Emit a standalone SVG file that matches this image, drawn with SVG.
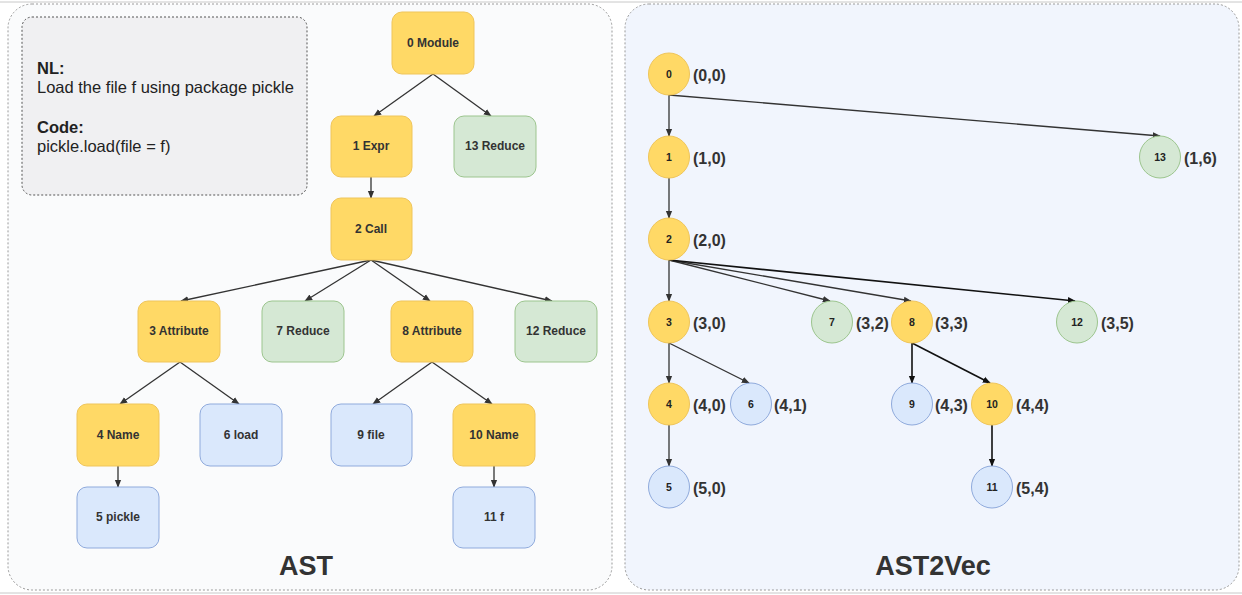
<svg xmlns="http://www.w3.org/2000/svg" width="1242" height="595" viewBox="0 0 1242 595">
<defs>
<style>
.panel{stroke:#9a9a9a;stroke-width:1;stroke-dasharray:2 2}
.y{fill:#FFD966;stroke:#EFC55A;stroke-width:1}
.g{fill:#D5E8D4;stroke:#9CC58E;stroke-width:1}
.b{fill:#DAE8FC;stroke:#8FAADC;stroke-width:1}
.nt{font-family:"Liberation Sans",Arial,sans-serif;font-size:12px;font-weight:bold;fill:#333;text-anchor:middle;dominant-baseline:central}
.ct{font-family:"Liberation Sans",Arial,sans-serif;font-size:10.5px;font-weight:bold;fill:#222;text-anchor:middle;dominant-baseline:central}
.lb{font-family:"Liberation Sans",Arial,sans-serif;font-size:16px;font-weight:bold;fill:#333;dominant-baseline:central}
.title{font-family:"Liberation Sans",Arial,sans-serif;font-size:27px;font-weight:bold;fill:#333;text-anchor:middle}
.e{stroke:#333;stroke-width:1.3;fill:none;marker-end:url(#ah)}
.ed{stroke:#111;stroke-width:1.6;fill:none;marker-end:url(#ahd)}
.desc{font-family:"Liberation Sans",Arial,sans-serif;font-size:16.5px;fill:#222}
</style>
<marker id="ah" viewBox="0 0 10 10" refX="9" refY="5" markerWidth="8" markerHeight="8" markerUnits="userSpaceOnUse" orient="auto">
<path d="M0,1 L10,5 L0,9 Z" fill="#333"/>
</marker>
<marker id="ahd" viewBox="0 0 10 10" refX="9" refY="5" markerWidth="8" markerHeight="8" markerUnits="userSpaceOnUse" orient="auto">
<path d="M0,1 L10,5 L0,9 Z" fill="#111"/>
</marker>
</defs>
<rect width="1242" height="595" fill="#ffffff"/>
<line x1="0" y1="2" x2="1242" y2="2" stroke="#c8c8c8" stroke-width="1"/>
<line x1="0" y1="593" x2="1242" y2="593" stroke="#c8c8c8" stroke-width="1"/>

<g id="panel-ast">
<rect class="panel" x="8" y="4" width="604" height="586" rx="24" fill="#FAFBFC"/>
<text class="title" x="306" y="575">AST</text>
</g>
<g id="panel-ast2vec">
<rect class="panel" x="625" y="4" width="614" height="586" rx="24" fill="#F1F5FD"/>
<text class="title" x="933" y="575">AST2Vec</text>
</g>

<g id="desc">
<rect x="22" y="17" width="285" height="178" rx="10" fill="#F0F0F2" stroke="#555" stroke-width="1" stroke-dasharray="2 2"/>
<text class="desc" x="37" y="74" font-weight="bold">NL:</text>
<text class="desc" x="37" y="93">Load the file f using package pickle</text>
<text class="desc" x="37" y="133" font-weight="bold">Code:</text>
<text class="desc" x="37" y="152">pickle.load(file = f)</text>
</g>

<g id="connectors-ast">
<line class="e" x1="433" y1="74" x2="374" y2="116"/>
<line class="e" x1="433" y1="74" x2="491" y2="116"/>
<line class="e" x1="371" y1="177" x2="371" y2="198"/>
<line class="e" x1="371" y1="260" x2="181" y2="301"/>
<line class="e" x1="371" y1="260" x2="305" y2="301"/>
<line class="e" x1="371" y1="260" x2="430" y2="301"/>
<line class="e" x1="371" y1="260" x2="552" y2="301"/>
<line class="e" x1="180" y1="362" x2="120" y2="404"/>
<line class="e" x1="180" y1="362" x2="239" y2="404"/>
<line class="e" x1="432" y1="362" x2="373" y2="404"/>
<line class="e" x1="432" y1="362" x2="492" y2="404"/>
<line class="e" x1="118" y1="466" x2="118" y2="487"/>
<line class="e" x1="494" y1="466" x2="494" y2="487"/>
</g>

<g id="ast-0"><rect class="y" x="392" y="12" width="82" height="62" rx="10"/><text class="nt" x="433" y="43">0 Module</text></g>
<g id="ast-1"><rect class="y" x="331" y="116" width="81" height="61" rx="10"/><text class="nt" x="371" y="146">1 Expr</text></g>
<g id="ast-13"><rect class="g" x="454" y="116" width="82" height="61" rx="10"/><text class="nt" x="495" y="146">13 Reduce</text></g>
<g id="ast-2"><rect class="y" x="331" y="198" width="81" height="62" rx="10"/><text class="nt" x="371" y="229">2 Call</text></g>
<g id="ast-3"><rect class="y" x="138" y="301" width="82" height="61" rx="10"/><text class="nt" x="179" y="331">3 Attribute</text></g>
<g id="ast-7"><rect class="g" x="262" y="301" width="82" height="61" rx="10"/><text class="nt" x="303" y="331">7 Reduce</text></g>
<g id="ast-8"><rect class="y" x="391" y="301" width="82" height="61" rx="10"/><text class="nt" x="432" y="331">8 Attribute</text></g>
<g id="ast-12"><rect class="g" x="515" y="301" width="82" height="61" rx="10"/><text class="nt" x="556" y="331">12 Reduce</text></g>
<g id="ast-4"><rect class="y" x="77" y="404" width="82" height="62" rx="10"/><text class="nt" x="118" y="435">4 Name</text></g>
<g id="ast-6"><rect class="b" x="200" y="404" width="82" height="62" rx="10"/><text class="nt" x="241" y="435">6 load</text></g>
<g id="ast-9"><rect class="b" x="331" y="404" width="81" height="62" rx="10"/><text class="nt" x="371" y="435">9 file</text></g>
<g id="ast-10"><rect class="y" x="453" y="404" width="82" height="62" rx="10"/><text class="nt" x="494" y="435">10 Name</text></g>
<g id="ast-5"><rect class="b" x="77" y="487" width="82" height="61" rx="10"/><text class="nt" x="118" y="517">5 pickle</text></g>
<g id="ast-11"><rect class="b" x="453" y="487" width="82" height="61" rx="10"/><text class="nt" x="494" y="517">11 f</text></g>

<g id="connectors-vec">
<line class="e" x1="669" y1="95" x2="669" y2="136"/>
<line class="e" x1="669" y1="95" x2="1160" y2="136"/>
<line class="e" x1="669" y1="178" x2="669" y2="218"/>
<line class="e" x1="669" y1="260" x2="669" y2="301"/>
<line class="e" x1="669" y1="260" x2="830" y2="301"/>
<line class="e" x1="669" y1="260" x2="911" y2="301"/>
<line class="ed" x1="669" y1="260" x2="1075" y2="301"/>
<line class="e" x1="669" y1="343" x2="669" y2="383"/>
<line class="e" x1="669" y1="343" x2="749" y2="383"/>
<line class="ed" x1="912" y1="343" x2="912" y2="383"/>
<line class="ed" x1="912" y1="343" x2="990" y2="383"/>
<line class="e" x1="669" y1="425" x2="669" y2="466"/>
<line class="ed" x1="992" y1="425" x2="992" y2="466"/>
</g>

<g id="vec-0"><ellipse class="y" cx="669" cy="74" rx="20.5" ry="21"/><text class="ct" x="669" y="74">0</text><text class="lb" x="693" y="75">(0,0)</text></g>
<g id="vec-1"><ellipse class="y" cx="669" cy="157" rx="20.5" ry="21"/><text class="ct" x="669" y="157">1</text><text class="lb" x="693" y="158">(1,0)</text></g>
<g id="vec-13"><ellipse class="g" cx="1160" cy="157" rx="20.5" ry="21"/><text class="ct" x="1160" y="157">13</text><text class="lb" x="1184" y="158">(1,6)</text></g>
<g id="vec-2"><ellipse class="y" cx="669" cy="239" rx="20.5" ry="21"/><text class="ct" x="669" y="239">2</text><text class="lb" x="693" y="240">(2,0)</text></g>
<g id="vec-3"><ellipse class="y" cx="669" cy="322" rx="20.5" ry="21"/><text class="ct" x="669" y="322">3</text><text class="lb" x="693" y="323">(3,0)</text></g>
<g id="vec-7"><ellipse class="g" cx="832" cy="322" rx="20.5" ry="21"/><text class="ct" x="832" y="322">7</text><text class="lb" x="856" y="323">(3,2)</text></g>
<g id="vec-8"><ellipse class="y" cx="912" cy="322" rx="20.5" ry="21"/><text class="ct" x="912" y="322">8</text><text class="lb" x="935" y="323">(3,3)</text></g>
<g id="vec-12"><ellipse class="g" cx="1077" cy="322" rx="20.5" ry="21"/><text class="ct" x="1077" y="322">12</text><text class="lb" x="1101" y="323">(3,5)</text></g>
<g id="vec-4"><ellipse class="y" cx="669" cy="404" rx="20.5" ry="21"/><text class="ct" x="669" y="404">4</text><text class="lb" x="693" y="405">(4,0)</text></g>
<g id="vec-6"><ellipse class="b" cx="751" cy="404" rx="20.5" ry="21"/><text class="ct" x="751" y="404">6</text><text class="lb" x="774" y="405">(4,1)</text></g>
<g id="vec-9"><ellipse class="b" cx="912" cy="404" rx="20.5" ry="21"/><text class="ct" x="912" y="404">9</text><text class="lb" x="935" y="405">(4,3)</text></g>
<g id="vec-10"><ellipse class="y" cx="992" cy="404" rx="20.5" ry="21"/><text class="ct" x="992" y="404">10</text><text class="lb" x="1016" y="405">(4,4)</text></g>
<g id="vec-5"><ellipse class="b" cx="669" cy="487" rx="20.5" ry="21"/><text class="ct" x="669" y="487">5</text><text class="lb" x="693" y="488">(5,0)</text></g>
<g id="vec-11"><ellipse class="b" cx="992" cy="487" rx="20.5" ry="21"/><text class="ct" x="992" y="487">11</text><text class="lb" x="1016" y="488">(5,4)</text></g>
</svg>
